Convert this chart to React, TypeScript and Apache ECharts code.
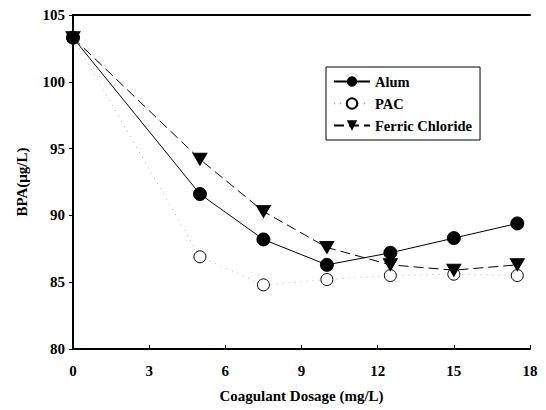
import React, { useEffect, useRef } from "react";
import * as echarts from "echarts";

const dosage = [0, 5, 7.5, 10, 12.5, 15, 17.5];
const alum = [103.3, 91.6, 88.2, 86.3, 87.2, 88.3, 89.4];
const pac = [103.3, 86.9, 84.8, 85.2, 85.5, 85.6, 85.5];
const ferric = [103.3, 94.2, 90.3, 87.6, 86.3, 85.9, 86.3];
const seriesNames = ["Alum", "PAC", "Ferric Chloride"];

const FONT = "'Liberation Serif', 'Times New Roman', Times, serif";

export default function App() {
  const ref = useRef<HTMLDivElement>(null);
  useEffect(() => {
    const chart = echarts.init(ref.current!, null, { renderer: "svg" });
    const pts = (ys: number[]) => dosage.map((x, i) => [x, ys[i]]);
    const axisLabel = { color: "#000", fontFamily: FONT, fontWeight: "bold", fontSize: 15 };
    chart.setOption({
      animation: false,
      backgroundColor: "#fff",
      grid: { left: 73, top: 15, right: 16, bottom: 61, show: false },
      legend: {
        data: seriesNames,
        orient: "vertical",
        left: 326,
        top: 67,
        itemWidth: 36,
        itemHeight: 13,
        itemGap: 7,
        padding: [7, 8, 7, 7],
        borderColor: "#000",
        borderWidth: 1,
        textStyle: { color: "#000", fontFamily: FONT, fontWeight: "bold", fontSize: 14.5 },
      },
      xAxis: [
        {
          type: "value",
          min: 0,
          max: 18,
          interval: 3,
          name: "Coagulant Dosage (mg/L)",
          nameLocation: "middle",
          nameGap: 39,
          nameTextStyle: { color: "#000", fontFamily: FONT, fontWeight: "bold", fontSize: 15 },
          axisLine: { show: true, onZero: false, lineStyle: { color: "#000", width: 2 } },
          axisTick: { show: true, inside: true, length: 4, lineStyle: { color: "#000" } },
          axisLabel: { ...axisLabel, margin: 14 },
          splitLine: { show: false },
        },
        {
          type: "value",
          position: "top",
          min: 0,
          max: 18,
          interval: 3,
          axisLine: { show: true, lineStyle: { color: "#000", width: 2 } },
          axisTick: { show: false },
          axisLabel: { show: false },
          splitLine: { show: false },
        },
      ],
      yAxis: [
        {
          type: "value",
          min: 80,
          max: 105,
          interval: 5,
          name: "BPA(μg/L)",
          nameLocation: "middle",
          nameGap: 44,
          nameTextStyle: { color: "#000", fontFamily: FONT, fontWeight: "bold", fontSize: 15 },
          axisLine: { show: true, onZero: false, lineStyle: { color: "#000", width: 2 } },
          axisTick: { show: true, length: 4, lineStyle: { color: "#000" } },
          axisLabel: { ...axisLabel, margin: 8 },
          splitLine: { show: false },
        },
        {
          type: "value",
          position: "right",
          min: 80,
          max: 105,
          interval: 5,
          axisLine: { show: true, lineStyle: { color: "#000", width: 2 } },
          axisTick: { show: true, inside: true, length: 4, lineStyle: { color: "#000" } },
          axisLabel: { show: false },
          splitLine: { show: false },
        },
      ],
      series: [
        {
          name: seriesNames[1],
          type: "line",
          data: pts(pac),
          symbol: "circle",
          symbolSize: 12,
          itemStyle: { color: "#fff", borderColor: "#000", borderWidth: 1 },
          lineStyle: { color: "#b0b0b0", width: 1, type: [1, 5] },
          z: 2,
        },
        {
          name: seriesNames[0],
          type: "line",
          data: pts(alum),
          symbol: "circle",
          symbolSize: 13,
          itemStyle: { color: "#000", borderColor: "#000" },
          lineStyle: { color: "#000", width: 1, type: "solid" },
          z: 3,
        },
        {
          name: seriesNames[2],
          type: "line",
          data: pts(ferric),
          symbol: "triangle",
          symbolRotate: 180,
          symbolSize: [14, 12],
          itemStyle: { color: "#000", borderColor: "#000" },
          lineStyle: { color: "#000", width: 1, type: [10, 5] },
          z: 4,
        },
      ],
    });
    return () => chart.dispose();
  }, []);
  return (
    <div
      ref={ref}
      style={{ position: "absolute", left: 0, top: 0, width: 546, height: 410, background: "#fff" }}
    />
  );
}
